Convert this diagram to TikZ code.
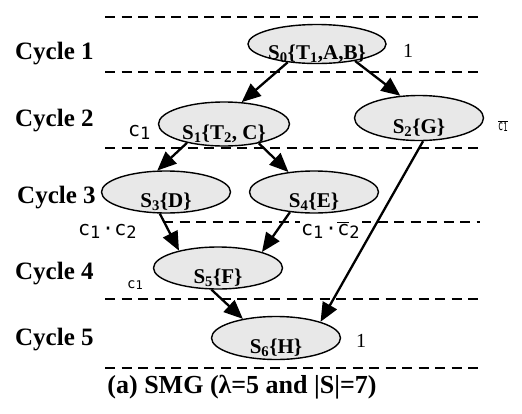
\documentclass[tikz,border=0pt]{standalone}
\usepackage{fontspec}
\usepackage{graphicx}
\setmainfont{Liberation Serif}
\newfontfamily\lblfont{DejaVu Sans Mono}
\usetikzlibrary{arrows.meta,shapes.geometric}

% overlined text (negated condition)
\newcommand\ovl[1]{\ensuremath{\overline{\hbox{#1}}}}
% state label set low inside its ellipse
\newcommand\stname[1]{\raisebox{-15pt}[0pt][0pt]{#1}}
% lowered index inside a monospaced condition, one character cell wide
\newcommand\csub[1]{\makebox[0.6em][l]{\raisebox{-3pt}{\fontsize{17}{19}\selectfont #1}}}
% lowered index for the small conditions
\newcommand\csubsm[1]{\makebox[0.6em][l]{\raisebox{-1.5pt}{\fontsize{12}{14}\selectfont #1}}}

\tikzset{
  state/.style={ellipse, draw, line width=1.4pt, fill=black!9,
    minimum width=129pt, minimum height=42pt, inner sep=0pt,
    font=\fontsize{21}{24}\selectfont\bfseries},
  cyc/.style={anchor=base west, inner sep=0pt,
    font=\fontsize{25}{29}\selectfont\bfseries},
  sep/.style={dash pattern=on 10pt off 6.5pt, line width=1.3pt},
  flow/.style={line width=2.3pt, -{Triangle[length=19pt,width=16pt]}},
  cond/.style={anchor=base west, inner sep=0pt,
    font=\lblfont\fontsize{20}{22}\selectfont},
  condsm/.style={anchor=base west, inner sep=0pt,
    font=\lblfont\fontsize{14}{16}\selectfont},
  prob/.style={anchor=base west, inner sep=0pt,
    font=\fontsize{20}{24}\selectfont},
}

\begin{document}
\begin{tikzpicture}[x=1pt,y=-1pt]
\useasboundingbox (0,0) rectangle (522,413);

% cycle boundaries
\draw[sep] (105,17)  -- (480,17);
\draw[sep] (105,72)  -- (480,72);
\draw[sep] (105,148) -- (480,148);
\draw[sep] (163,222) -- (480,222);
\draw[sep] (105,299) -- (480,299);
\draw[sep] (105,368) -- (480,368);

% cycle names
\node[cyc] (cy1) at (15,59)  {Cycle 1};
\node[cyc] (cy2) at (15,126) {Cycle 2};
\node[cyc] (cy3) at (17,203) {Cycle 3};
\node[cyc] (cy4) at (15,279) {Cycle 4};
\node[cyc] (cy5) at (15,345) {Cycle 5};

% states
\node[state, minimum height=39pt] (S0) at (317,44)
  {\stname{S\textsubscript{0}\{T\textsubscript{1},A,B\}}};
\node[state, minimum width=131pt, minimum height=44pt] (S1) at (224,124)
  {\stname{S\textsubscript{1}\{T\textsubscript{2}, C\}}};
\node[state, minimum height=45pt] (S2) at (419,118)
  {\stname{S\textsubscript{2}\{G\}}};
\node[state] (S3) at (166,192) {\stname{S\textsubscript{3}\{D\}}};
\node[state] (S4) at (314,192) {\stname{S\textsubscript{4}\{E\}}};
\node[state] (S5) at (218,268) {\stname{S\textsubscript{5}\{F\}}};
\node[state, minimum height=43pt] (S6) at (276,338)
  {\stname{S\textsubscript{6}\{H\}}};

% transitions
\draw[flow] (S0.212) -- (S1.51);
\draw[flow] (S0.336) -- (S2.130);
\draw[flow] (S1.207) -- (S3.112);
\draw[flow] (S1.331) -- (S4.142);
\draw[flow] (S3.254) -- (S5.156);
\draw[flow] (S4.220) -- (S5.20);
\draw[flow] (S5.253) -- (S6.150);
\draw[flow] (S2.280) -- (S6.20);

% conditions and probabilities
\node[prob] (p0) at (403,57) {1};
\node[prob] (p6) at (356,347) {1};
\node[cond] (c1a) at (128,136) {c\csub{1}};
\node[condsm] (c1n) at (498,130)
  {\scalebox{0.6}[1]{\ovl{c\csubsm{1}}}};
\node[cond] (c12) at (78,235) {c\csub{1}\textperiodcentered c\csub{2}};
\node[cond, fill=white, inner xsep=1pt, inner ysep=1pt] (c12n) at (300,235)
  {c\csub{1}\textperiodcentered\ovl{c}\csub{2}};
\node[condsm] (c1b) at (127,288) {c\csubsm{1}};

% caption
\node[anchor=base, inner sep=0pt, font=\fontsize{26}{30}\selectfont\bfseries]
  (cap) at (242,393) {(a) SMG (λ=5 and |S|=7)};
\end{tikzpicture}
\end{document}
